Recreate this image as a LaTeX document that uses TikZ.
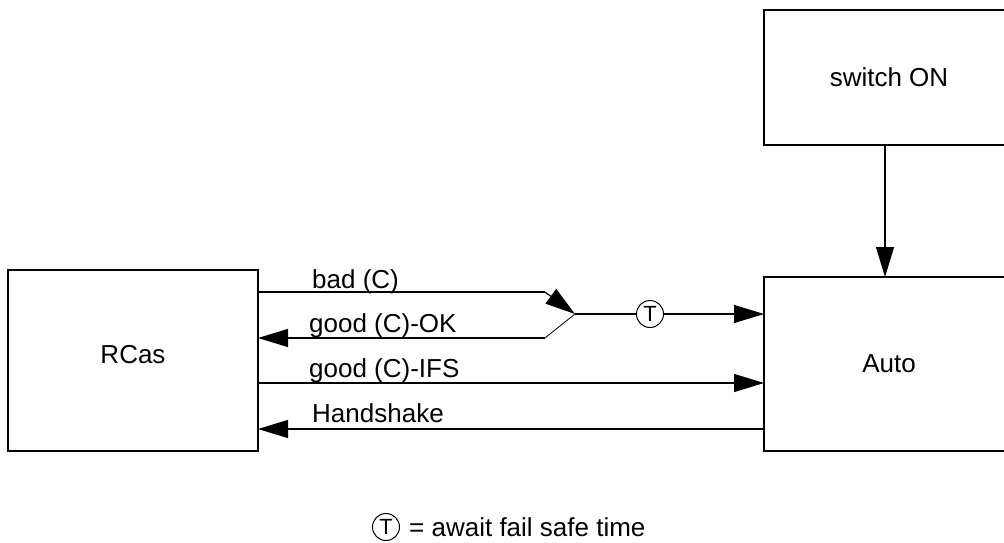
\documentclass[tikz,border=0pt]{standalone}
\usepackage{fontspec}
\setmainfont{Liberation Sans}
\usetikzlibrary{arrows.meta}
\begin{document}
\begin{tikzpicture}[x=1pt,y=-1pt,
  box/.style={draw,line width=1.5pt,minimum width=250pt,inner sep=0pt,
    font=\fontsize{26}{30}\selectfont},
  conn/.style={line width=1.2pt,-{Triangle[length=30pt,width=18pt]}},
  lbl/.style={anchor=base west,inner sep=0pt,font=\fontsize{26}{30}\selectfont},
  tcirc/.style={circle,draw,line width=1pt,minimum size=27pt,inner sep=0pt,
    font=\fontsize{22}{26}\selectfont}]
\useasboundingbox (0,0) rectangle (1004,543);
\clip (0,0) rectangle (1004,543);
\node[box,minimum height=181pt,text depth=12pt] (rcas) at (133,360.5) {RCas};
\node[box,minimum height=174pt] (auto) at (889,364) {Auto};
\node[box,minimum height=135pt] (sw) at (889,77.5) {switch ON};
% switch -> auto
\coordinate (swb) at (885,145);
\coordinate (autot) at (885,277);
\draw[conn] (swb) -- (autot);
% bad (C)
\coordinate (b0) at (258,292);
\coordinate (b1) at (545,292);
\coordinate (j) at (575,314);
\draw[line width=1.2pt] (b0) -- (b1);
\draw[conn] (b1) -- (j);
\node[lbl] (lbad) at (312,288) {bad (C)};
% junction -> T -> auto
\node[tcirc] (t) at (650,314) {T};
\coordinate (a1) at (764,314);
\draw[line width=1.2pt] (j) -- (t);
\draw[conn] (t) -- (a1);
% good (C)-OK
\coordinate (g1) at (545,338);
\coordinate (g0) at (258,338);
\draw[line width=0.8pt] (j) -- (g1);
\draw[conn] (g1) -- (g0);
\node[lbl] (lok) at (309,332) {good (C)-OK};
% good (C)-IFS
\coordinate (i0) at (258,383);
\coordinate (i1) at (764,383);
\draw[conn] (i0) -- (i1);
\node[lbl] (lifs) at (309,377) {good (C)-IFS};
% Handshake
\coordinate (h1) at (764,429);
\coordinate (h0) at (258,429);
\draw[conn] (h1) -- (h0);
\node[lbl] (lhs) at (312,422) {Handshake};
% legend
\node[tcirc] (tl) at (386,527) {T};
\node[lbl,anchor=west] (leg) at (409,527) {= await fail safe time};
\end{tikzpicture}
\end{document}
